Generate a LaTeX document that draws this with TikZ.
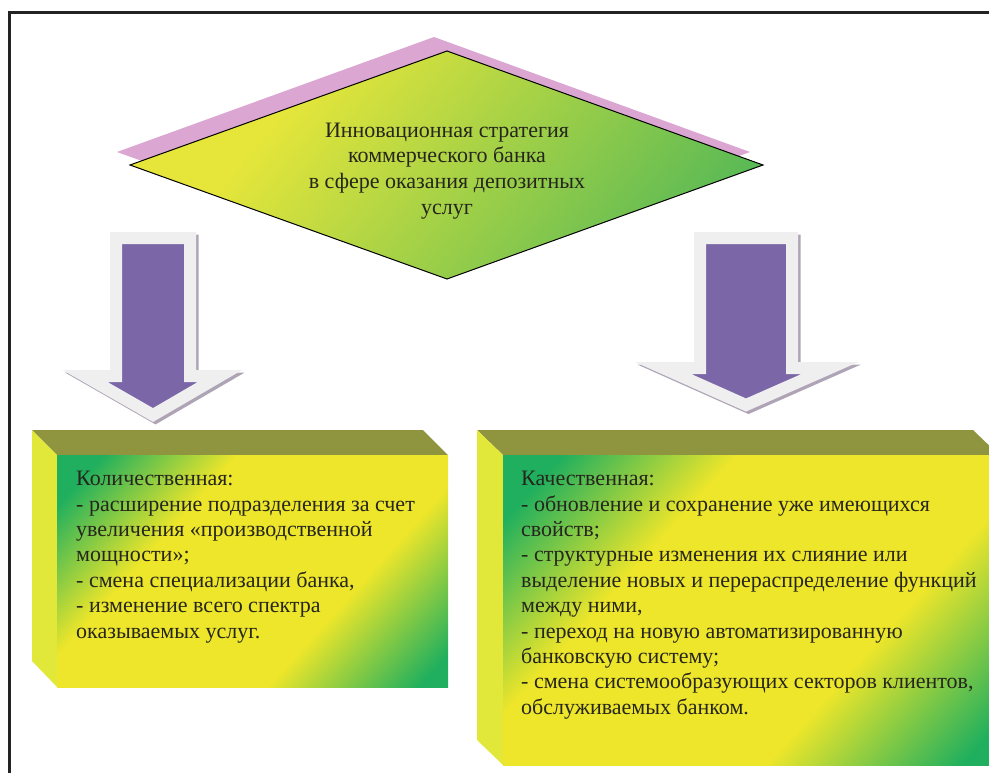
\documentclass[tikz,border=0pt]{standalone}
\usepackage{fontspec}
\setmainfont{Liberation Serif}
\definecolor{framecol}{HTML}{232323}
\definecolor{pinkshadow}{HTML}{DCA6D2}
\definecolor{dyellow}{HTML}{E6E63A}
\definecolor{dgreen}{HTML}{55B856}
\definecolor{bgreen}{HTML}{1FAF5E}
\definecolor{byellow}{HTML}{EEE62A}
\definecolor{olive}{HTML}{8E953E}
\definecolor{sideyellow}{HTML}{E2E83A}
\definecolor{purple}{HTML}{7B66A8}
\definecolor{arrowrim}{HTML}{EFEFEF}
\definecolor{arrowshadow}{HTML}{AEA4B6}
\definecolor{textcol}{HTML}{26261C}
\pgfdeclarehorizontalshading{diamondshade}{100bp}{color(0bp)=(dyellow); color(32bp)=(dyellow); color(78bp)=(dgreen); color(100bp)=(dgreen)}
\pgfdeclarehorizontalshading{boxshade}{100bp}{color(0bp)=(bgreen); color(20bp)=(bgreen); color(36bp)=(byellow); color(64bp)=(byellow); color(82bp)=(bgreen); color(100bp)=(bgreen)}
\tikzset{
  framestyle/.style={draw=framecol, line width=2.7pt},
  diamondfill/.style={shading=diamondshade, shading angle=-40},
  boxfront/.style={shading=boxshade, shading angle=-42},
  boxtop/.style={fill=olive},
  boxside/.style={fill=sideyellow},
  arrowbody/.style={fill=purple, draw=arrowrim, line width=12pt, line join=miter, miter limit=10},
  arrowshade/.style={fill=arrowshadow, draw=arrowshadow, line width=12pt, line join=miter, miter limit=10},
  boxtext/.style={anchor=north west, inner sep=0pt, align=left, text=textcol, font=\fontsize{22}{25.4}\selectfont},
  diamondtext/.style={inner sep=0pt, align=center, text=textcol, font=\fontsize{22}{25.8}\selectfont}
}
\begin{document}
\begin{tikzpicture}[x=1pt, y=-1pt]
\useasboundingbox (0,0) rectangle (989,772);
\clip (0,0) rectangle (989,772);
% frame
\draw[framestyle] (995,12.8) -- (9.3,12.8) -- (9.3,780);
% diamond shadow and diamond
\fill[pinkshadow] (434,37) -- (750,152) -- (434,266) -- (117,152) -- cycle;
\shade[diamondfill] (447,51) -- (763,165) -- (447,279) -- (130,165) -- cycle;
\draw[black, line width=1pt] (447,51) -- (763,165) -- (447,279) -- (130,165) -- cycle;
\node[diamondtext] (strategy) at (447,171) {Инновационная стратегия\\коммерческого банка\\в сфере оказания депозитных\\услуг};
% left arrow
\draw[arrowshade] (118.5,240.5) -- (192.5,240.5) -- (192.5,378.5) -- (222.5,378.5) -- (155.5,417.5) -- (87.5,378.5) -- (118.5,378.5) -- cycle;
\draw[arrowbody] (116,238) -- (190,238) -- (190,376) -- (220,376) -- (153,415) -- (85,376) -- (116,376) -- cycle;
% right arrow
\draw[arrowshade] (702.5,240.5) -- (794.5,240.5) -- (794.5,370.5) -- (832.5,370.5) -- (748.5,407.5) -- (665.5,370.5) -- (702.5,370.5) -- cycle;
\draw[arrowbody] (700,238) -- (792,238) -- (792,368) -- (830,368) -- (746,405) -- (663,368) -- (700,368) -- cycle;
% left box
\fill[boxtop] (32,430) -- (423,430) -- (448,455) -- (57,455) -- cycle;
\fill[boxside] (32,430) -- (57,455) -- (57,687) -- (32,661) -- cycle;
\shade[boxfront] (57,455) rectangle (448,687);
\node[boxtext] (quant) at (76,471) {Количественная:\\- расширение подразделения за счет\\увеличения «производственной\\мощности»;\\- смена специализации банка,\\- изменение всего спектра\\оказываемых услуг.};
% right box
\fill[boxtop] (477,430) -- (973,430) -- (999,455) -- (503,455) -- cycle;
\fill[boxside] (477,430) -- (503,455) -- (503,765) -- (477,740) -- cycle;
\shade[boxfront] (503,455) rectangle (999,765);
\node[boxtext] (qual) at (521,471) {Качественная:\\- обновление и сохранение уже имеющихся\\свойств;\\- структурные изменения их слияние или\\выделение новых и перераспределение функций\\между ними,\\- переход на новую автоматизированную\\банковскую систему;\\- смена системообразующих секторов клиентов,\\обслуживаемых банком.};
\end{tikzpicture}
\end{document}
